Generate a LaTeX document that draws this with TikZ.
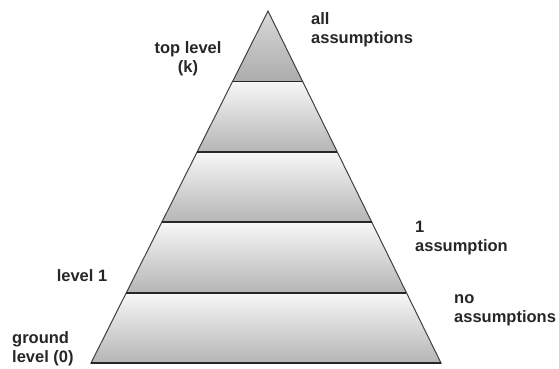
\documentclass[tikz,border=0pt]{standalone}
\usepackage{fontspec}
\setmainfont{Liberation Sans}
\usetikzlibrary{calc}
\tikzset{
  band/.style={top color=gray!6, bottom color=gray!58, draw=none},
  topband/.style={top color=gray!30, bottom color=gray!65, draw=none},
  levelline/.style={draw=black!85, line width=1.8pt},
  outline/.style={draw=black!75, line width=1pt, line join=miter},
  lbl/.style={font=\bfseries\fontsize{16.5}{19}\selectfont, inner sep=0pt,
    text=black!85, align=left, anchor=base west},
}

\begin{document}
\begin{tikzpicture}[x=1pt, y=-1pt]
  \useasboundingbox (0,0) rectangle (559,368);

  %% ---- pyramid corners ----
  \coordinate (apex) at (268,11);
  \coordinate (bl)   at (91,363);
  \coordinate (br)   at (441,363);

  %% ---- shaded levels ----
  \foreach \t/\u in {0.2/0.4, 0.4/0.6, 0.6/0.8, 0.8/1}{
    \shade[band] ($(apex)!\t!(bl)$) -- ($(apex)!\t!(br)$)
      -- ($(apex)!\u!(br)$) -- ($(apex)!\u!(bl)$) -- cycle;
  }
  \shade[topband] (apex) -- ($(apex)!0.2!(br)$) -- ($(apex)!0.2!(bl)$) -- cycle;

  %% ---- outline and level lines ----
  \draw[outline] (apex) -- (bl) -- (br) -- cycle;
  \foreach \t in {0.2, 0.4, 0.6, 0.8}
    \draw[levelline] ($(apex)!\t!(bl)$) -- ($(apex)!\t!(br)$);
  \draw[levelline] (bl) -- (br);

  %% ---- labels (base = last line) ----
  \node[lbl] (allas)  at (311,43)  {all\\assumptions};
  \node[lbl, align=center, anchor=base] (toplev) at (188,72) {top level\\(k)};
  \node[lbl] (oneas)  at (415,251) {1\\assumption};
  \node[lbl, anchor=base] (lev1) at (82,281) {level 1};
  \node[lbl] (noas)   at (454,322) {no\\assumptions};
  \node[lbl] (ground) at (12,362)  {ground\\level (0)};
\end{tikzpicture}
\end{document}
